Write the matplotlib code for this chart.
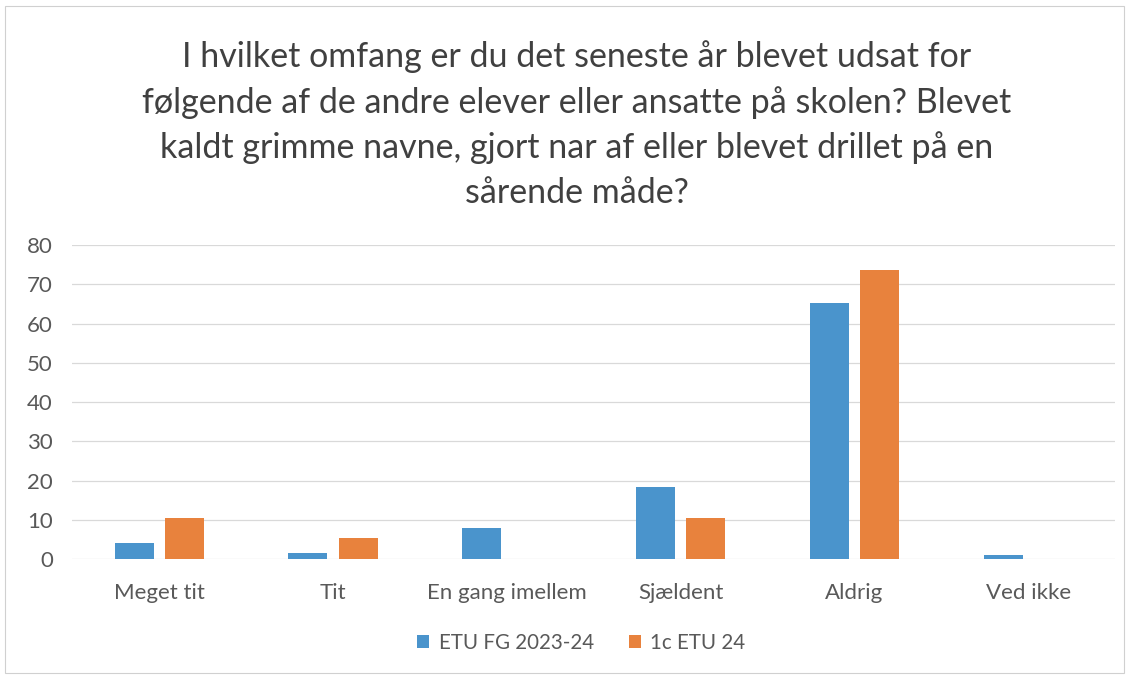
import matplotlib
matplotlib.use("Agg")
import matplotlib.pyplot as plt
import numpy as np
from matplotlib.patches import Rectangle

plt.rcParams['font.family'] = ['Lato', 'DejaVu Sans']

categories = ["Meget tit", "Tit", "En gang imellem", "Sjældent", "Aldrig", "Ved ikke"]
series_names = ["ETU FG 2023-24", "1c ETU 24"]
etu_fg = [4.1, 1.7, 8.0, 18.5, 65.2, 1.1]
c1_etu = [10.5, 5.3, 0, 10.5, 73.7, 0]
yticks = [0, 10, 20, 30, 40, 50, 60, 70, 80]
title = ("I hvilket omfang er du det seneste år blevet udsat for\n"
         "følgende af de andre elever eller ansatte på skolen? Blevet\n"
         "kaldt grimme navne, gjort nar af eller blevet drillet på en\n"
         "sårende måde?")

blue = "#4a94cc"
orange = "#e8823d"
text_col = "#595959"

fig = plt.figure(figsize=(11.31, 6.77), dpi=100)
fig.patches.append(Rectangle((0.004, 0.006), 0.99, 0.985, transform=fig.transFigure,
                             fill=False, edgecolor="#d0d0d0", linewidth=0.8))
ax = fig.add_axes([0.064, 0.174, 0.922, 0.464])

x = np.arange(len(categories))
w = 0.225
gap = 0.065
ax.bar(x - (w + gap) / 2, etu_fg, width=w, color=blue, label=series_names[0], zorder=3)
ax.bar(x + (w + gap) / 2, c1_etu, width=w, color=orange, label=series_names[1], zorder=3)

ax.set_xlim(-0.5, len(categories) - 0.5)
ax.set_ylim(0, 80)
ax.set_yticks(yticks)
ax.set_yticklabels([str(t) for t in yticks])
ax.set_xticks(x)
ax.set_xticklabels(categories)
ax.grid(axis='y', color="#d9d9d9", linewidth=0.9, zorder=0)
for s in ax.spines.values():
    s.set_visible(False)
ax.tick_params(axis='both', length=0, labelsize=16, colors=text_col)
ax.tick_params(axis='x', pad=17)
ax.tick_params(axis='y', pad=14)

fig.text(0.51, 0.94, title, ha='center', va='top', fontsize=24.5, color="#404040",
         linespacing=1.47)

fig.legend(loc='center', bbox_to_anchor=(0.514, 0.05), ncol=2, frameon=False,
           fontsize=14.8, labelcolor=text_col, handlelength=0.6, handleheight=0.6,
           columnspacing=1.7, handletextpad=0.45)

fig.savefig("out.png", dpi=100)
